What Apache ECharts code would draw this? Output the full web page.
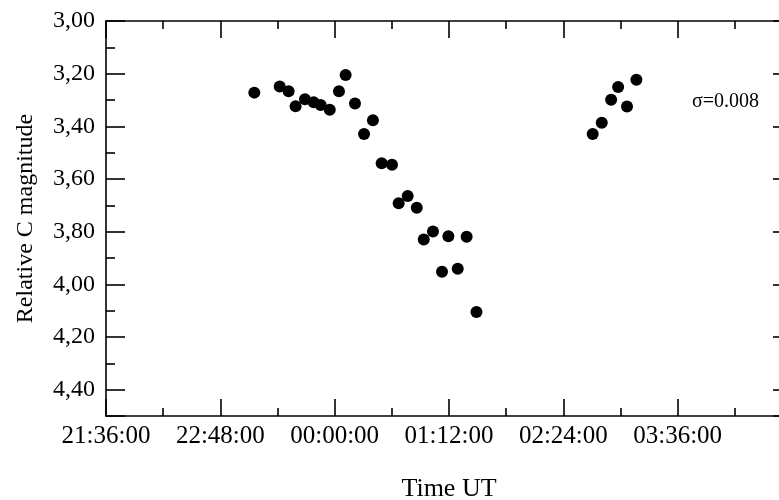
<!DOCTYPE html>
<html>
<head>
<meta charset="utf-8">
<script src="https://cdn.jsdelivr.net/npm/echarts@6/dist/echarts.min.js"></script>
<style>html,body{margin:0;padding:0;background:#fff}#c{width:779px;height:500px}</style>
</head>
<body>
<div id="c"></div>
<script>
// Time in minutes relative to 00:00 UT (negative = previous evening)
var timeMinutes = [-50.6,-34.6,-29.0,-24.6,-18.7,-13.2,-8.8,-3.1,2.7,6.9,12.8,18.5,24.1,29.6,36.1,40.3,46.0,51.7,56.1,61.9,71.6,83.1,67.6,77.5,89.3,162.5,168.2,174.1,178.5,184.1,190.0];
var relMagnitude = [3.272,3.249,3.267,3.324,3.297,3.309,3.319,3.337,3.267,3.205,3.313,3.429,3.377,3.540,3.546,3.692,3.665,3.709,3.830,3.799,3.817,3.819,3.952,3.941,4.105,3.429,3.386,3.299,3.251,3.325,3.223];
var xTickLabels = {"-144":"21:36:00","-72":"22:48:00","0":"00:00:00","72":"01:12:00","144":"02:24:00","216":"03:36:00","288":"04:48:00"};
var sigmaText = "σ=0.008";
var xTitle = "Time UT";
var yTitle = "Relative C magnitude";

var points = timeMinutes.map(function(t,i){return [t, relMagnitude[i]];});
var font = "'Liberation Serif','Times New Roman',serif";
var lineStyle = {color:'#000', width:1.6};

var chart = echarts.init(document.getElementById('c'));
chart.setOption({
  animation:false,
  backgroundColor:'#fff',
  grid:{left:106, width:686, top:21, height:395, containLabel:false, outerBoundsMode:'none'},
  xAxis:[{
    type:'value', position:'bottom', min:-144, max:288, interval:72,
    axisLine:{show:true, onZero:false, lineStyle:lineStyle},
    axisTick:{show:true, inside:true, length:17, lineStyle:lineStyle},
    minorTick:{show:true, splitNumber:2, length:8, lineStyle:lineStyle},
    splitLine:{show:false},
    axisLabel:{show:true, margin:8, color:'#000', fontFamily:font, fontSize:25, showMaxLabel:false,
      formatter:function(v){return xTickLabels[String(Math.round(v))]||'';}},
    name:xTitle, nameLocation:'middle', nameGap:60,
    nameTextStyle:{color:'#000', fontFamily:font, fontSize:26}
  },{
    type:'value', position:'top', min:-144, max:288, interval:72,
    axisLine:{show:true, onZero:false, lineStyle:lineStyle},
    axisTick:{show:true, inside:true, length:17, lineStyle:lineStyle},
    minorTick:{show:true, splitNumber:2, length:8, lineStyle:lineStyle},
    splitLine:{show:false}, axisLabel:{show:false}
  }],
  yAxis:[{
    type:'value', position:'left', inverse:true, min:3, max:4.5, interval:0.2,
    axisLine:{show:true, onZero:false, lineStyle:lineStyle},
    axisTick:{show:true, inside:true, length:19, lineStyle:lineStyle},
    minorTick:{show:true, splitNumber:2, length:9, lineStyle:lineStyle},
    splitLine:{show:false},
    axisLabel:{show:true, margin:11, color:'#000', fontFamily:font, fontSize:24, showMaxLabel:false,
      formatter:function(v){return v.toFixed(2).replace('.',',');}},
    name:yTitle, nameLocation:'middle', nameGap:68,
    nameTextStyle:{color:'#000', fontFamily:font, fontSize:24}
  },{
    type:'value', position:'right', inverse:true, min:3, max:4.5, interval:0.2,
    axisLine:{show:true, onZero:false, lineStyle:lineStyle},
    axisTick:{show:true, inside:true, length:19, lineStyle:lineStyle},
    minorTick:{show:true, splitNumber:2, length:9, lineStyle:lineStyle},
    splitLine:{show:false}, axisLabel:{show:false}
  }],
  graphic:[{
    type:'text', left:692, top:92,
    style:{text:sigmaText, fill:'#000', font:'20px '+font}
  }],
  series:[{
    type:'scatter', data:points, symbol:'circle', symbolSize:12,
    itemStyle:{color:'#000', opacity:1}, xAxisIndex:0, yAxisIndex:0
  }]
});
</script>
</body>
</html>
